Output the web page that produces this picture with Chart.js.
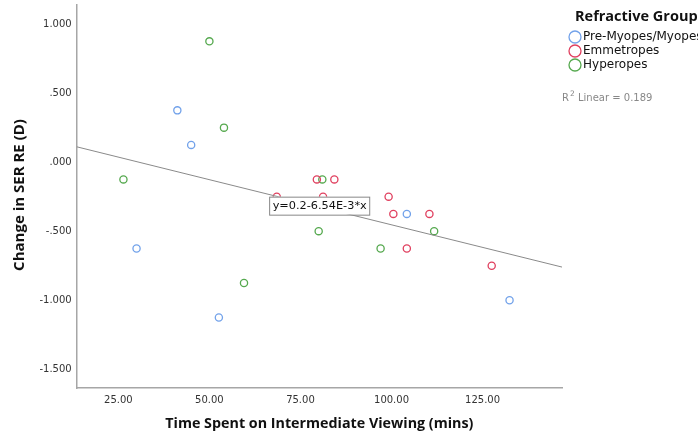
<!DOCTYPE html>
<html>
<head>
<meta charset="utf-8">
<script src="https://cdn.jsdelivr.net/npm/chart.js@4/dist/chart.umd.min.js"></script>
<style>
  html, body { margin: 0; padding: 0; background: #fff; }
  #wrap { width: 698px; height: 436px; }
</style>
</head>
<body>
<div id="wrap"><canvas id="scatter" width="698" height="436"></canvas></div>
<script>
'use strict';

// Time spent (mins) vs change in SER RE (D), per refractive group
const myopesX = [41.2, 45.0, 30.0, 52.6, 104.2, 132.4];
const myopesY = [0.375, 0.125, -0.625, -1.125, -0.375, -1.0];

const emmetropesX = [79.5, 84.3, 68.5, 81.2, 99.2, 100.5, 110.4, 104.2, 127.5];
const emmetropesY = [-0.125, -0.125, -0.25, -0.25, -0.25, -0.375, -0.375, -0.625, -0.75];

const hyperopesX = [50.0, 54.0, 26.4, 59.5, 81.0, 80.0, 97.0, 111.7];
const hyperopesY = [0.875, 0.25, -0.125, -0.875, -0.125, -0.5, -0.625, -0.5];

const groupNames = ['Pre-Myopes/Myopes', 'Emmetropes', 'Hyperopes'];
const groupColors = ['#72a2ea', '#e0405f', '#56a94f'];

// fit line y = a + b*x
const fitIntercept = 0.2;
const fitSlope = -6.54e-3;
const fitLabel = 'y=0.2-6.54E-3*x';
const rSquared = 0.189;

const xTicks = [25, 50, 75, 100, 125];
const yTicks = [-1.5, -1.0, -0.5, 0, 0.5, 1.0];
const xRange = [13.57, 146.8];
const yRange = [-1.636, 1.139];

const toPoints = (xs, ys) => xs.map((x, i) => ({ x, y: ys[i] }));
const FONT = '"DejaVu Sans", sans-serif';
const BOLD = '"Open Sans", sans-serif';

const groups = [
  toPoints(myopesX, myopesY),
  toPoints(emmetropesX, emmetropesY),
  toPoints(hyperopesX, hyperopesY)
];

const datasets = groups.map((pts, i) => ({
  type: 'scatter',
  label: groupNames[i],
  data: pts,
  borderColor: groupColors[i],
  backgroundColor: 'rgba(255,255,255,0)',
  pointRadius: 3.6,
  pointBorderWidth: 1.3,
  pointHoverRadius: 3.6
}));

// regression line across the full x range
datasets.unshift({
  type: 'line',
  label: 'fit',
  data: xRange.map(x => ({ x, y: fitIntercept + fitSlope * x })),
  borderColor: '#8a8a8a',
  borderWidth: 1,
  pointRadius: 0,
  fill: false
});

const fmtY = v => v.toFixed(3).replace(/^(-?)0\./, '$1.');

const textPlugin = {
  id: 'textPlugin',
  afterDraw(chart) {
    const { ctx, chartArea: ca, scales } = chart;
    ctx.save();

    // axis titles
    ctx.fillStyle = '#111';
    ctx.font = `bold 14.3px ${BOLD}`;
    ctx.textAlign = 'center';
    ctx.textBaseline = 'middle';
    ctx.fillText('Time Spent on Intermediate Viewing (mins)', (ca.left + ca.right) / 2, 424);
    ctx.save();
    ctx.translate(20, 195);
    ctx.rotate(-Math.PI / 2);
    ctx.font = `bold 15px ${BOLD}`;
    ctx.fillText('Change in SER RE (D)', 0, 0);
    ctx.restore();

    // fit equation box
    const bx = scales.x.getPixelForValue(66.4);
    const by = scales.y.getPixelForValue(-0.25);
    ctx.font = `11.3px ${FONT}`;
    const tw = ctx.measureText(fitLabel).width;
    ctx.fillStyle = '#fff';
    ctx.fillRect(bx, by, tw + 6, 18);
    ctx.strokeStyle = '#888';
    ctx.lineWidth = 1;
    ctx.strokeRect(bx + 0.5, by + 0.5, tw + 6, 18);
    ctx.fillStyle = '#111';
    ctx.textAlign = 'left';
    ctx.fillText(fitLabel, bx + 3.5, by + 9.5);

    // legend
    ctx.font = `bold 14.5px ${BOLD}`;
    ctx.fillText('Refractive Group', 575, 17);
    ctx.font = `12px ${FONT}`;
    chart.data.datasets.filter(d => d.type === 'scatter').forEach((d, i) => {
      const y = 37 + i * 14;
      ctx.beginPath();
      ctx.arc(575, y, 6, 0, Math.PI * 2);
      ctx.strokeStyle = d.borderColor;
      ctx.lineWidth = 1.3;
      ctx.stroke();
      ctx.fillStyle = '#111';
      ctx.fillText(d.label, 583, y);
    });

    // R squared note
    ctx.fillStyle = '#888';
    ctx.font = `10px ${FONT}`;
    ctx.fillText('R', 562, 98);
    ctx.font = `7.5px ${FONT}`;
    ctx.fillText('2', 570, 94);
    ctx.font = `10px ${FONT}`;
    ctx.fillText('Linear = ' + rSquared.toFixed(3), 578, 98);

    ctx.restore();
  }
};

new Chart(document.getElementById('scatter'), {
  type: 'scatter',
  data: { datasets },
  options: {
    responsive: false,
    animation: false,
    devicePixelRatio: 1,
    layout: { padding: { left: 0, right: 136, top: 4, bottom: 0 } },
    plugins: { legend: { display: false }, tooltip: { enabled: false } },
    scales: {
      x: {
        type: 'linear',
        min: xRange[0],
        max: xRange[1],
        afterBuildTicks: s => { s.ticks = xTicks.map(v => ({ value: v })); },
        afterFit: s => { s.height = 48; s.paddingLeft = 0; s.paddingRight = 0; },
        grid: { display: false, drawTicks: false },
        border: { display: true, color: '#a6a6a6', width: 1.5 },
        ticks: {
          autoSkip: false,
          maxRotation: 0,
          padding: 6,
          color: '#333',
          font: { family: FONT, size: 10 },
          callback: v => v.toFixed(2)
        }
      },
      y: {
        type: 'linear',
        min: yRange[0],
        max: yRange[1],
        afterBuildTicks: s => { s.ticks = yTicks.map(v => ({ value: v })); },
        afterFit: s => { s.width = 76.7; s.paddingTop = 0; s.paddingBottom = 0; },
        grid: { display: false, drawTicks: false },
        border: { display: true, color: '#a6a6a6', width: 1.5 },
        ticks: {
          padding: 5,
          color: '#333',
          font: { family: FONT, size: 10 },
          callback: v => fmtY(v)
        }
      }
    }
  },
  plugins: [textPlugin]
});
</script>
</body>
</html>
